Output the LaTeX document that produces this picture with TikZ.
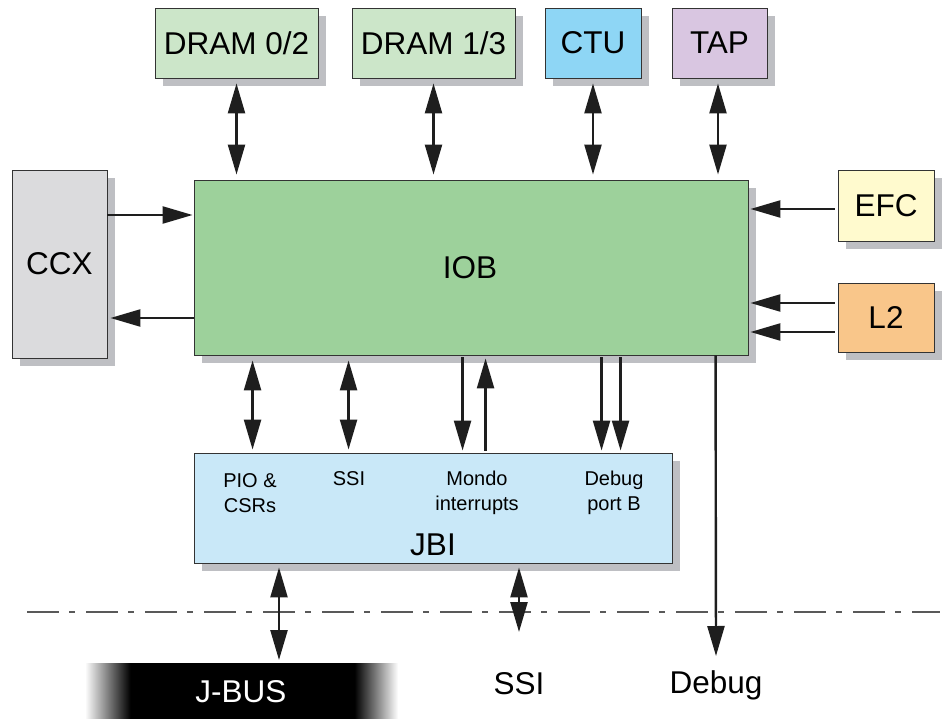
\documentclass[tikz,border=0pt]{standalone}
\usepackage{fontspec}
\setmainfont{Liberation Sans}
\usetikzlibrary{arrows.meta,shadows}
\definecolor{dramc}{HTML}{CCE6C9}
\definecolor{ctuc}{HTML}{8ED6F5}
\definecolor{tapc}{HTML}{D9C6E1}
\definecolor{ccxc}{HTML}{DBDBDD}
\definecolor{iobc}{HTML}{9DD19B}
\definecolor{efcc}{HTML}{FFFACE}
\definecolor{l2c}{HTML}{F9C68A}
\definecolor{jbic}{HTML}{C9E8F8}
\definecolor{shadc}{HTML}{BEBFC3}
\definecolor{linec}{HTML}{1E1E1E}
\begin{document}
\begin{tikzpicture}[x=1pt,y=-1pt,
  >={Triangle[length=30pt,width=17pt]},
  blk/.style={draw=black!80,line width=0.9pt,inner sep=0pt,
    drop shadow={shadow xshift=8pt,shadow yshift=-8pt,fill=shadc,opacity=1},
    font=\fontsize{31.5}{36}\selectfont},
  arr/.style={line width=2.4pt,draw=linec,->},
  dbl/.style={line width=2.4pt,draw=linec,<->},
  small/.style={font=\fontsize{20}{25}\selectfont,align=center,inner sep=0pt},
  lbl/.style={font=\fontsize{31.5}{36}\selectfont,inner sep=0pt}]
\useasboundingbox (0,0) rectangle (948,719);
% boxes
\node[blk,fill=dramc,minimum width=163pt,minimum height=70pt] (dram02) at (236.5,43) {DRAM 0/2};
\node[blk,fill=dramc,minimum width=163pt,minimum height=70pt] (dram13) at (433.5,43) {DRAM 1/3};
\node[blk,fill=ctuc,minimum width=96pt,minimum height=70pt] (ctu) at (593,43) {CTU};
\node[blk,fill=tapc,minimum width=95pt,minimum height=70pt] (tap) at (719.5,43) {TAP};
\node[blk,fill=ccxc,minimum width=95pt,minimum height=188pt] (ccx) at (59.5,264) {CCX};
\node[blk,fill=iobc,minimum width=554pt,minimum height=175pt] (iob) at (471,267.5) {};
\node[lbl] (iobl) at (470,268) {IOB};
\node[blk,fill=efcc,minimum width=96pt,minimum height=71pt] (efc) at (886,205.5) {EFC};
\node[blk,fill=l2c,minimum width=96pt,minimum height=69pt] (l2) at (886,317.5) {L2};
\node[blk,fill=jbic,minimum width=478pt,minimum height=110pt] (jbi) at (433,508) {};
\node[lbl] (jbil) at (433,545) {JBI};
\node[small] (pio) at (250,493) {PIO \&\\CSRs};
\node[small,anchor=north] (ssis) at (349,471) {SSI};
\node[small] (mondo) at (477,493) {Mondo\\interrupts};
\node[small] (dbgb) at (614,493) {Debug\\port B};
% J-BUS
\fill[black] (130,663) rectangle (355,719);
\shade[left color=white,right color=black] (85,663) rectangle (130.5,719);
\shade[left color=black,right color=white] (354.5,663) rectangle (398,719);
\node[lbl,text=white] (jbus) at (241,692) {J-BUS};
\coordinate (jbustop) at (279,663);
\node[lbl] (ssib) at (519,684) {SSI};
\node[lbl] (dbg) at (716,685) {Debug};
\coordinate (ssitip) at (519,632);
\coordinate (dbgtip) at (716,656);
% dash-dot line
\draw[line width=1.6pt,draw=black!65,dash pattern=on 32pt off 10pt on 6pt off 11pt] (27,612) -- (940,612);
% top arrows
\draw[dbl,shorten <=5pt,shorten >=5pt] (dram02.south) -- (dram02.south |- iob.north);
\draw[dbl,shorten <=5pt,shorten >=5pt] (dram13.south) -- (dram13.south |- iob.north);
\draw[dbl,shorten <=5pt,shorten >=5pt] (ctu.south) -- (ctu.south |- iob.north);
\draw[dbl,shorten <=5pt,shorten >=5pt] ([xshift=-1.5pt]tap.south) -- ([xshift=-1.5pt]tap.south |- iob.north);
% CCX
\draw[arr,shorten >=1pt] (ccx.east |- 0,215) -- (iob.west |- 0,215);
\draw[arr,shorten >=3pt] (iob.west |- 0,318) -- (ccx.east |- 0,318);
% EFC, L2
\draw[arr,shorten >=2pt,shorten <=3pt] (efc.west |- 0,209) -- (iob.east |- 0,209);
\draw[arr,shorten >=2pt,shorten <=3pt] (l2.west |- 0,303) -- (iob.east |- 0,303);
\draw[arr,shorten >=2pt,shorten <=3pt] (l2.west |- 0,332) -- (iob.east |- 0,332);
% IOB - JBI
\draw[dbl,shorten <=5pt,shorten >=3pt] ([xshift=59pt]iob.south west) -- ([xshift=59pt]jbi.north west);
\draw[dbl,shorten <=5pt,shorten >=3pt] ([xshift=155pt]iob.south west) -- ([xshift=155pt]jbi.north west);
\draw[arr,shorten <=2pt,shorten >=2pt] ([xshift=269pt]iob.south west) -- ([xshift=269pt]jbi.north west);
\draw[arr,shorten <=2pt,shorten >=3pt] ([xshift=292pt]jbi.north west) -- ([xshift=292pt]iob.south west);
\draw[arr,shorten <=2pt,shorten >=2pt] ([xshift=408pt]iob.south west) -- ([xshift=408pt]jbi.north west);
\draw[arr,shorten <=2pt,shorten >=2pt] ([xshift=427pt]iob.south west) -- ([xshift=427pt]jbi.north west);
% Debug
\draw[arr] ([xshift=522pt]iob.south west) -- (dbgtip);
% JBI bottom
\draw[dbl,shorten <=4pt,shorten >=3pt] (jbi.south -| jbustop) -- (jbustop);
\draw[dbl,shorten <=4pt] (jbi.south -| ssitip) -- (ssitip);
\end{tikzpicture}
\end{document}
